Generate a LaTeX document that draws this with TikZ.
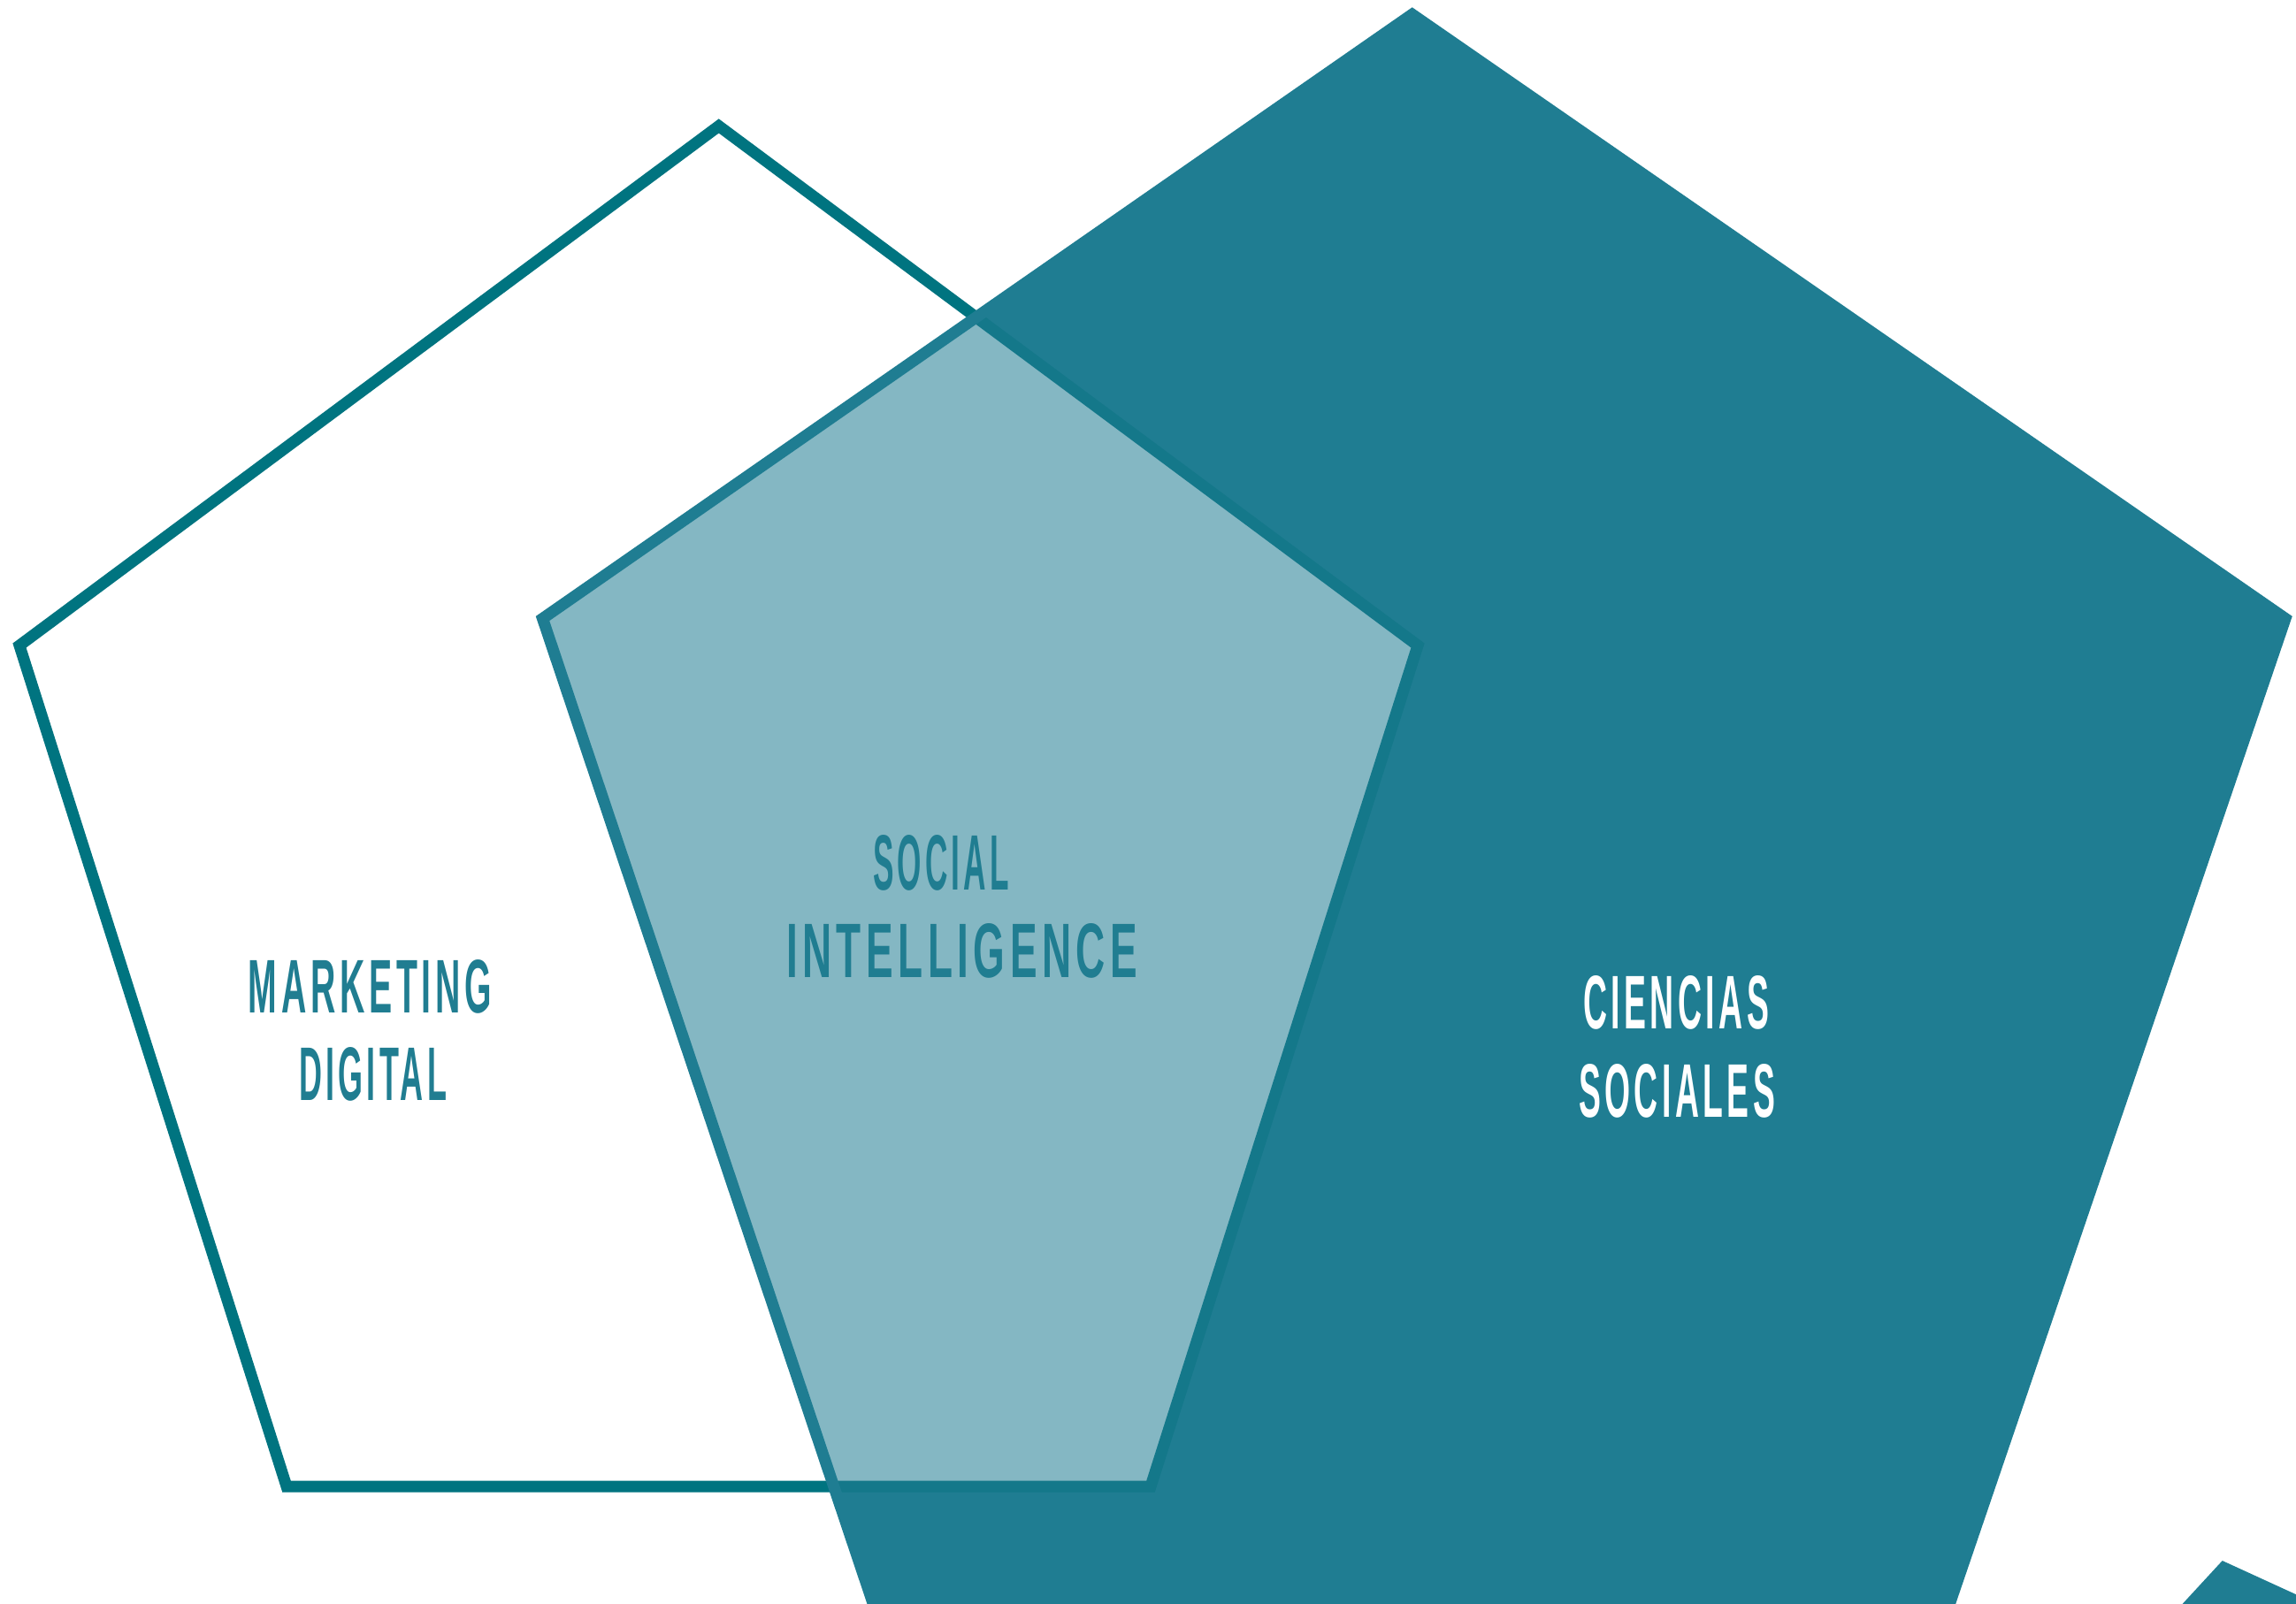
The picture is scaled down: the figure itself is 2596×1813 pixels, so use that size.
\documentclass[tikz,border=0pt]{standalone}
\usepackage{graphicx}
\usepackage{fontspec}
\setmainfont{Liberation Sans}
\newfontfamily\lblfont[LetterSpace=12]{Liberation Sans}
\definecolor{bigc}{HTML}{1F7D92}
\definecolor{outc}{HTML}{007480}
\definecolor{innc}{HTML}{14788A}
\definecolor{txtc}{HTML}{207D91}
\newcommand{\lbl}[3]{\resizebox{#1bp}{#2bp}{\lblfont\bfseries\fontsize{84}{84}\selectfont #3}}
\begin{document}
\begin{tikzpicture}[x=1bp,y=-1bp,
  edge/.style={line width=13bp,line join=miter},
  lab/.style={inner sep=0pt,anchor=center}]
\useasboundingbox (0,0) rectangle (2596,1813);
% left pentagon vertices
\coordinate (L1) at (812.7,142.5);
\coordinate (L2) at (1603,730);
\coordinate (L3) at (1301,1681);
\coordinate (L4) at (324,1681);
\coordinate (L5) at (22,730);
% big pentagon vertices
\coordinate (B1) at (1596.7,16.2);
\coordinate (B2) at (2584,699.5);
\coordinate (B3) at (2192,1850);
\coordinate (B4) at (999.4,1850);
\coordinate (B5) at (613.5,699.5);
% 1: outline of left pentagon
\draw[edge,outc] (L1)--(L2)--(L3)--(L4)--(L5)--cycle;
% 2: big pentagon fill
\fill[bigc] (B1)--(B2)--(B3)--(B4)--(B5)--cycle;
% 3: overlap
\begin{scope}
  \clip (B1)--(B2)--(B3)--(B4)--(B5)--cycle;
  \fill[white,opacity=0.45] (L1)--(L2)--(L3)--(L4)--(L5)--cycle;
  \draw[edge,innc] (L1)--(L2)--(L3)--(L4)--(L5)--cycle;
\end{scope}
% 4: big pentagon stroke
\draw[edge,bigc] (B1)--(B2)--(B3)--(B4)--(B5)--cycle;
% small shape at bottom right
\fill[bigc] (2462,1820)--(2512.7,1765)--(2600,1805)--(2600,1820)--cycle;
% labels
\node[lab,text=txtc] (soc1) at (1064,976) {\lbl{154}{62}{SOCIAL}};
\node[lab,text=txtc] (soc2) at (1087.5,1075.5) {\lbl{397}{61}{INTELLIGENCE}};
\node[lab,text=txtc] (mk1) at (418.5,1116) {\lbl{275}{60}{MARKETING}};
\node[lab,text=txtc] (mk2) at (421.5,1215) {\lbl{167}{60}{DIGITAL}};
\node[lab,text=white] (cs1) at (1895,1134) {\lbl{210}{60}{CIENCIAS}};
\node[lab,text=white] (cs2) at (1896,1233.5) {\lbl{222}{60}{SOCIALES}};
\end{tikzpicture}
\end{document}
